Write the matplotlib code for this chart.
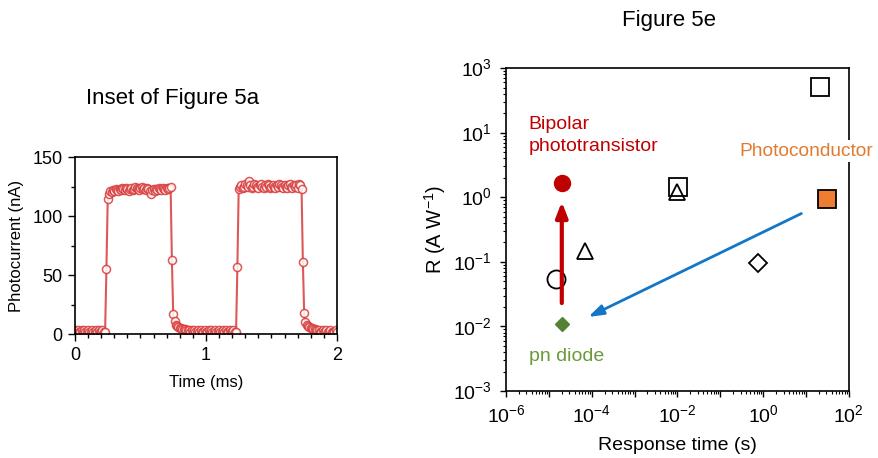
import numpy as np
import matplotlib.pyplot as plt
from matplotlib.ticker import FixedLocator, FixedFormatter, LogLocator, NullFormatter, MultipleLocator

plt.rcParams['font.family'] = ['Liberation Sans', 'DejaVu Sans']

# ---- inset of figure 5a: photocurrent vs time ----
time_ms = [0.00, 0.01, 0.02, 0.03, 0.04, 0.05, 0.06, 0.07, 0.08, 0.09,
           0.10, 0.11, 0.12, 0.13, 0.14, 0.15, 0.16, 0.17, 0.18, 0.19,
           0.20, 0.21, 0.22, 0.23, 0.24, 0.25, 0.26, 0.27, 0.28, 0.29,
           0.30, 0.31, 0.32, 0.33, 0.34, 0.35, 0.36, 0.37, 0.38, 0.39,
           0.40, 0.41, 0.42, 0.43, 0.44, 0.45, 0.46, 0.47, 0.48, 0.49,
           0.50, 0.51, 0.52, 0.53, 0.54, 0.55, 0.56, 0.57, 0.58, 0.59,
           0.60, 0.61, 0.62, 0.63, 0.64, 0.65, 0.66, 0.67, 0.68, 0.69,
           0.70, 0.71, 0.72, 0.73, 0.74, 0.75, 0.76, 0.77, 0.78, 0.79,
           0.80, 0.81, 0.82, 0.83, 0.84, 0.85, 0.86, 0.87, 0.88, 0.89,
           0.90, 0.91, 0.92, 0.93, 0.94, 0.95, 0.96, 0.97, 0.98, 0.99,
           1.00, 1.01, 1.02, 1.03, 1.04, 1.05, 1.06, 1.07, 1.08, 1.09,
           1.10, 1.11, 1.12, 1.13, 1.14, 1.15, 1.16, 1.17, 1.18, 1.19,
           1.20, 1.21, 1.22, 1.23, 1.24, 1.25, 1.26, 1.27, 1.28, 1.29,
           1.30, 1.31, 1.32, 1.33, 1.34, 1.35, 1.36, 1.37, 1.38, 1.39,
           1.40, 1.41, 1.42, 1.43, 1.44, 1.45, 1.46, 1.47, 1.48, 1.49,
           1.50, 1.51, 1.52, 1.53, 1.54, 1.55, 1.56, 1.57, 1.58, 1.59,
           1.60, 1.61, 1.62, 1.63, 1.64, 1.65, 1.66, 1.67, 1.68, 1.69,
           1.70, 1.71, 1.72, 1.73, 1.74, 1.75, 1.76, 1.77, 1.78, 1.79,
           1.80, 1.81, 1.82, 1.83, 1.84, 1.85, 1.86, 1.87, 1.88, 1.89,
           1.90, 1.91, 1.92, 1.93, 1.94, 1.95, 1.96, 1.97, 1.98, 1.99,
           2.00]
photocurrent_nA = [3, 2, 3, 2, 2, 3, 2, 3, 2, 2, 3, 2, 2, 3, 2, 2, 3, 2, 3, 2, 2, 3, 2, 2,
                   55, 114,
                   119, 121, 120, 122, 121, 123, 122, 121, 123, 122, 124, 123, 122, 124, 123, 121,
                   123, 124, 122, 123, 125, 124, 123, 122, 124, 125, 123, 124, 122, 124, 123, 121,
                   119, 122, 123, 121, 123, 122, 124, 123, 122, 124, 123, 122, 124, 123, 124, 125,
                   63, 17,
                   11, 8, 7, 6, 5, 5, 4, 4, 4, 3,
                   3, 3, 2, 3, 2, 3, 2, 2, 3, 2, 3, 2, 2, 3, 2, 2, 3, 2, 3, 2,
                   2, 3, 2, 2, 3, 2, 2, 3, 2, 3, 2, 2, 3, 2, 2, 3, 2,
                   2, 57, 123,
                   125, 126, 124, 125, 127, 126, 125, 130, 126, 124, 125, 127, 126, 125, 124, 126,
                   127, 125, 124, 126, 125, 127, 126, 124, 125, 126, 125, 124, 126, 125, 127, 126,
                   125, 124, 126, 125, 124, 126, 127, 125, 124, 126, 125, 126, 124, 127, 126,
                   123, 61, 18,
                   10, 8, 7, 6, 5, 5, 4, 4, 3, 3,
                   3, 2, 2, 3, 2, 2, 3, 2, 2, 3, 2, 2, 2, 3, 2]

# ---- figure 5e: responsivity vs response time ----
open_sq_t = [1.05e-2, 21]
open_sq_r = [1.44, 51]
open_tri_t = [6.9e-5, 1.0e-2]
open_tri_r = [0.148, 1.2]
open_circ_t = [1.5e-5]
open_circ_r = [0.054]
open_dia_t = [0.76]
open_dia_r = [0.096]
bipolar_t, bipolar_r = 2.0e-5, 1.66
photocond_t, photocond_r = 31, 0.93
pn_t, pn_r = 2.0e-5, 0.011
red_arrow = [(2.0e-5, 0.023), (2.0e-5, 0.85)]
blue_arrow = [(7.8, 0.56), (8.3e-5, 0.014)]

fig = plt.figure(figsize=(8.79, 4.58), dpi=100)

# left panel
ax1 = fig.add_axes([0.0853, 0.2707, 0.298, 0.3865])
red = '#D93A3A'
ax1.plot(time_ms, photocurrent_nA, '-o', color=red, lw=1.5, ms=5.8,
         mfc='white', mec=red, mew=1.1, alpha=0.85)
ax1.set_xlim(0, 2)
ax1.set_ylim(0, 150)
ax1.set_xticks([0, 1, 2])
ax1.set_yticks([0, 50, 100, 150])
ax1.xaxis.set_minor_locator(MultipleLocator(0.1))
ax1.yaxis.set_minor_locator(MultipleLocator(25))
ax1.tick_params(which='major', direction='out', length=5, width=1, labelsize=13, pad=4)
ax1.tick_params(which='minor', direction='out', length=3, width=1)
for s in ax1.spines.values():
    s.set_linewidth(1.2)
ax1.set_xlabel('Time (ms)', fontsize=12, labelpad=8)
ax1.set_ylabel('Photocurrent (nA)', fontsize=12, labelpad=6)
fig.text(0.196, 0.785, 'Inset of Figure 5a', fontsize=16, ha='center', va='center')

# right panel
ax2 = fig.add_axes([0.5757, 0.1463, 0.390, 0.705])
ax2.set_xscale('log')
ax2.set_yscale('log')
ax2.set_xlim(1e-6, 1e2)
ax2.set_ylim(1e-3, 1e2)

ms_big = 12.5
ax2.plot(open_sq_t, open_sq_r, 's', ms=ms_big, mfc='white', mec='black', mew=1.3, ls='none')
ax2.plot(open_tri_t, open_tri_r, '^', ms=11, mfc='none', mec='black', mew=1.3, ls='none')
ax2.plot(open_circ_t, open_circ_r, 'o', ms=13, mfc='none', mec='black', mew=1.3, ls='none')
ax2.plot(open_dia_t, open_dia_r, 'D', ms=9.5, mfc='none', mec='black', mew=1.3, ls='none')
ax2.plot([bipolar_t], [bipolar_r], 'o', ms=11.5, color='#C00000', ls='none')
ax2.plot([photocond_t], [photocond_r], 's', ms=ms_big, mfc='#ED7D31', mec='black', mew=1.3, ls='none')
ax2.plot([pn_t], [pn_r], 'D', ms=7.5, color='#548235', ls='none')

ax2.annotate('', xy=red_arrow[1], xytext=red_arrow[0],
             arrowprops=dict(arrowstyle='-|>,head_length=0.9,head_width=0.35',
                             color='#C00000', lw=3, shrinkA=0, shrinkB=0))
ax2.annotate('', xy=blue_arrow[1], xytext=blue_arrow[0],
             arrowprops=dict(arrowstyle='-|>,head_length=0.9,head_width=0.3',
                             color='#1476C6', lw=2, shrinkA=0, shrinkB=0))

ax2.text(3.4e-6, 9.0, 'Bipolar\nphototransistor', color='#C00000', fontsize=14,
         ha='left', va='center', linespacing=1.35)
ax2.text(0.285, 5.2, 'Photoconductor', color='#E07A30', fontsize=13.8, ha='left',
         va='center', clip_on=False, zorder=5,
         bbox=dict(facecolor='white', edgecolor='none', pad=1.5))
ax2.text(3.4e-6, 0.0034, 'pn diode', color='#6A9A3A', fontsize=14, ha='left', va='center')

yt = [1e-3, 1e-2, 1e-1, 1e0, 1e1, 1e2]
yl = [r'10$^{\mathregular{-3}}$', r'10$^{\mathregular{-2}}$', r'10$^{\mathregular{-1}}$',
      r'10$^{\mathregular{0}}$', r'10$^{\mathregular{1}}$', r'10$^{\mathregular{3}}$']
ax2.yaxis.set_major_locator(FixedLocator(yt))
ax2.yaxis.set_major_formatter(FixedFormatter(yl))
xt = [1e-6, 1e-5, 1e-4, 1e-3, 1e-2, 1e-1, 1e0, 1e1, 1e2]
xl = [r'10$^{\mathregular{-6}}$', '', r'10$^{\mathregular{-4}}$', '', r'10$^{\mathregular{-2}}$', '',
      r'10$^{\mathregular{0}}$', '', r'10$^{\mathregular{2}}$']
ax2.xaxis.set_major_locator(FixedLocator(xt))
ax2.xaxis.set_major_formatter(FixedFormatter(xl))
ax2.xaxis.set_minor_locator(LogLocator(base=10, subs=np.arange(2, 10), numticks=20))
ax2.yaxis.set_minor_locator(LogLocator(base=10, subs=np.arange(2, 10), numticks=20))
ax2.xaxis.set_minor_formatter(NullFormatter())
ax2.yaxis.set_minor_formatter(NullFormatter())
ax2.tick_params(which='major', direction='out', length=4, width=1, labelsize=14, pad=6)
ax2.tick_params(which='minor', direction='out', length=2.5, width=0.8)
for s in ax2.spines.values():
    s.set_linewidth(1.2)
ax2.set_xlabel('Response time (s)', fontsize=14, labelpad=7)
ax2.set_ylabel(r'R (A W$^{\mathregular{-1}}$)', fontsize=14.5, labelpad=4)
fig.text(0.761, 0.955, 'Figure 5e', fontsize=16, ha='center', va='center')

fig.savefig('out.png', dpi=100)
